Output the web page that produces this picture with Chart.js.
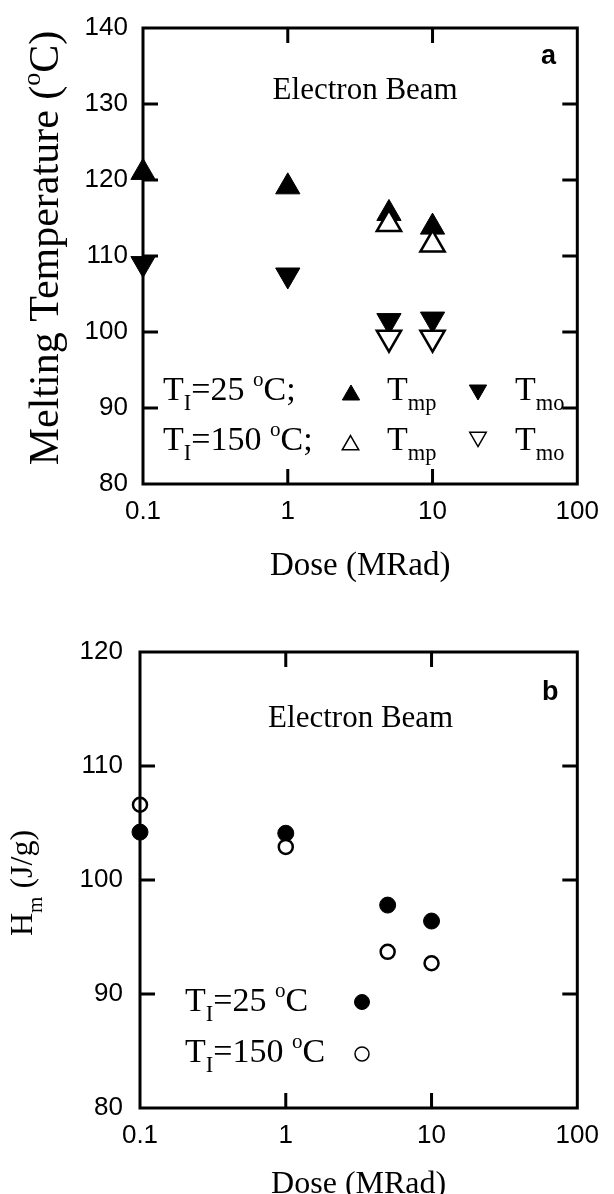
<!DOCTYPE html>
<html><head><meta charset="utf-8">
<script src="https://cdn.jsdelivr.net/npm/chart.js@4/dist/chart.umd.min.js"></script>
<style>
html,body{margin:0;padding:0;background:#fff;}
#wrap{position:relative;width:614px;height:1194px;overflow:hidden;background:#fff;}
canvas{position:absolute;left:0;}
</style></head><body>
<div id="wrap">
<canvas id="ca" width="614" height="597" style="top:0px"></canvas>
<canvas id="cb" width="614" height="597" style="top:597px"></canvas>
</div>
<script>
// ---------- data ----------
const doseTicks = [0.1, 1, 10, 100];
const tempTicks = [80, 90, 100, 110, 120, 130, 140];
const heatTicks = [80, 90, 100, 110, 120];

// panel a : melting temperatures (deg C)
const doseA25 = [0.1, 1, 5, 10];
const tmp25 = [121.0, 119.1, 115.6, 113.8];
const tmo25 = [109.0, 107.5, 101.5, 101.7];
const doseA150 = [5, 10];
const tmp150 = [114.2, 111.5];
const tmo150 = [99.25, 99.25];

// panel b : heat of melting (J/g)
const doseB = [0.1, 1, 5, 10];
const hm25 = [104.2, 104.1, 97.8, 96.4];
const hm150 = [106.6, 102.9, 93.7, 92.7];

// ---------- helpers ----------
const SERIF = '"Liberation Serif", "Times New Roman", serif';
const SANS = '"Liberation Sans", Arial, sans-serif';
const pts = (xs, ys) => xs.map((x, i) => ({x: x, y: ys[i]}));

function segSize(s, size) {
  return s.sub ? size * 0.66 : (s.sup ? size * 0.62 : size);
}
function drawRich(ctx, x, y, segs, size, family) {
  let cx = x;
  ctx.fillStyle = '#000';
  for (const s of segs) {
    ctx.font = segSize(s, size) + 'px ' + family;
    const dy = s.sub ? size * 0.3 : (s.sup ? -size * 0.42 : 0);
    ctx.fillText(s.t, cx, y + dy);
    cx += ctx.measureText(s.t).width;
  }
  return cx - x;
}
function richWidth(ctx, segs, size, family) {
  let w = 0;
  for (const s of segs) {
    ctx.font = segSize(s, size) + 'px ' + family;
    w += ctx.measureText(s.t).width;
  }
  return w;
}
function tri(ctx, x, y, r, down, filled, lw) {
  const s = down ? -1 : 1;
  ctx.save();
  ctx.beginPath();
  ctx.moveTo(x, y - s * r);
  ctx.lineTo(x + r * Math.sin(2 * Math.PI / 3), y + s * r / 2);
  ctx.lineTo(x - r * Math.sin(2 * Math.PI / 3), y + s * r / 2);
  ctx.closePath();
  ctx.fillStyle = filled ? '#000' : '#fff';
  ctx.fill();
  ctx.lineWidth = lw; ctx.strokeStyle = '#000'; ctx.lineJoin = 'miter';
  ctx.stroke();
  ctx.restore();
}
function circ(ctx, x, y, r, filled, lw) {
  ctx.save();
  ctx.beginPath();
  ctx.arc(x, y, r, 0, 2 * Math.PI);
  ctx.fillStyle = filled ? '#000' : '#fff';
  ctx.fill();
  ctx.lineWidth = lw; ctx.strokeStyle = '#000';
  ctx.stroke();
  ctx.restore();
}
function frameAndTicks(chart, yTicks) {
  const ctx = chart.ctx;
  const {left, right, top, bottom} = chart.chartArea;
  const xs = chart.scales.x, ys = chart.scales.y;
  ctx.save();
  ctx.strokeStyle = '#000';
  ctx.lineWidth = 3;
  ctx.strokeRect(left, top, right - left, bottom - top);
  const L = 15;
  ctx.beginPath();
  doseTicks.slice(1, -1).forEach(v => {
    const px = xs.getPixelForValue(v);
    ctx.moveTo(px, bottom); ctx.lineTo(px, bottom - L);
    ctx.moveTo(px, top); ctx.lineTo(px, top + L);
  });
  yTicks.slice(1, -1).forEach(v => {
    const py = ys.getPixelForValue(v);
    ctx.moveTo(left, py); ctx.lineTo(left + L, py);
    ctx.moveTo(right, py); ctx.lineTo(right - L, py);
  });
  ctx.stroke();
  ctx.restore();
}
function xScale(height) {
  return {
    type: 'logarithmic', min: 0.1, max: 100, position: 'bottom',
    grid: {display: false, drawTicks: false}, border: {display: false},
    afterBuildTicks: s => { s.ticks = doseTicks.map(v => ({value: v})); },
    afterFit: s => { s.height = height; },
    ticks: {autoSkip: false, maxRotation: 0, padding: 15, color: '#000',
      font: {family: SANS, size: 26, lineHeight: 1},
      callback: v => String(v)}
  };
}
function yScale(min, max, list, width, pad) {
  return {
    type: 'linear', min: min, max: max, position: 'left',
    grid: {display: false, drawTicks: false}, border: {display: false},
    afterBuildTicks: s => { s.ticks = list.map(v => ({value: v})); },
    afterFit: s => { s.width = width; },
    ticks: {padding: pad, color: '#000', font: {family: SANS, size: 26, lineHeight: 1},
      callback: v => String(v)}
  };
}
const baseOpts = {
  responsive: false, animation: false, devicePixelRatio: 1,
  plugins: {legend: {display: false}, tooltip: {enabled: false}}
};

// ---------- chart a ----------
const decoA = {
  id: 'decoA',
  afterDatasetsDraw(chart) {
    frameAndTicks(chart, tempTicks);
    const ctx = chart.ctx;
    const {left, right} = chart.chartArea;
    const cx = (left + right) / 2;
    ctx.save();
    ctx.fillStyle = '#000';
    ctx.textBaseline = 'alphabetic';
    ctx.textAlign = 'center';
    ctx.font = '31px ' + SERIF;
    ctx.fillText('Electron Beam', cx + 5, 99);
    ctx.font = 'bold 27px ' + SANS;
    ctx.textAlign = 'left';
    ctx.fillText('a', 541, 64);
    // x title
    ctx.textAlign = 'center';
    ctx.font = '33px ' + SERIF;
    ctx.fillText('Dose (MRad)', cx, 575);
    // y title (rotated)
    ctx.textAlign = 'left';
    const ySegs = [{t: 'Melting Temperature ('}, {t: 'o', sup: true}, {t: 'C)'}];
    const w = richWidth(ctx, ySegs, 42, SERIF);
    ctx.save();
    ctx.translate(58, 248);
    ctx.rotate(-Math.PI / 2);
    drawRich(ctx, -w / 2, 0, ySegs, 42, SERIF);
    ctx.restore();
    // legend
    drawRich(ctx, 163, 400, [{t: 'T'}, {t: 'I', sub: true}, {t: '=25 '}, {t: 'o', sup: true}, {t: 'C;'}], 34, SERIF);
    drawRich(ctx, 163, 450, [{t: 'T'}, {t: 'I', sub: true}, {t: '=150 '}, {t: 'o', sup: true}, {t: 'C;'}], 34, SERIF);
    tri(ctx, 351, 395, 10, false, true, 1);
    tri(ctx, 478, 390, 10, true, true, 1);
    tri(ctx, 350.5, 445, 9.5, false, false, 1.5);
    tri(ctx, 478, 437, 9.5, true, false, 1.5);
    drawRich(ctx, 387, 400, [{t: 'T'}, {t: 'mp', sub: true}], 34, SERIF);
    drawRich(ctx, 515, 400, [{t: 'T'}, {t: 'mo', sub: true}], 34, SERIF);
    drawRich(ctx, 387, 450, [{t: 'T'}, {t: 'mp', sub: true}], 34, SERIF);
    drawRich(ctx, 515, 450, [{t: 'T'}, {t: 'mo', sub: true}], 34, SERIF);
    ctx.restore();
  }
};

new Chart(document.getElementById('ca'), {
  type: 'scatter',
  data: {
    datasets: [
      {label: 'Tmp 150', data: pts(doseA150, tmp150), pointStyle: 'triangle', pointRadius: 14,
        backgroundColor: '#fff', borderColor: '#000', borderWidth: 2.5, clip: false},
      {label: 'Tmo 150', data: pts(doseA150, tmo150), pointStyle: 'triangle', pointRotation: 180, pointRadius: 14,
        backgroundColor: '#fff', borderColor: '#000', borderWidth: 2.5, clip: false},
      {label: 'Tmp 25', data: pts(doseA25, tmp25), pointStyle: 'triangle', pointRadius: 14,
        backgroundColor: '#000', borderColor: '#000', borderWidth: 1, clip: false},
      {label: 'Tmo 25', data: pts(doseA25, tmo25), pointStyle: 'triangle', pointRotation: 180, pointRadius: 14,
        backgroundColor: '#000', borderColor: '#000', borderWidth: 1, clip: false}
    ]
  },
  options: Object.assign({}, baseOpts, {
    layout: {padding: {top: 28, right: 24, bottom: 0, left: 0}},
    scales: {x: xScale(113), y: yScale(80, 140, tempTicks, 143, 15)}
  }),
  plugins: [decoA]
});

// ---------- chart b ----------
const decoB = {
  id: 'decoB',
  afterDatasetsDraw(chart) {
    frameAndTicks(chart, heatTicks);
    const ctx = chart.ctx;
    const {left, right} = chart.chartArea;
    const cx = (left + right) / 2;
    ctx.save();
    ctx.fillStyle = '#000';
    ctx.textBaseline = 'alphabetic';
    ctx.textAlign = 'center';
    ctx.font = '31px ' + SERIF;
    ctx.fillText('Electron Beam', cx + 2, 130);
    ctx.font = 'bold 27px ' + SANS;
    ctx.textAlign = 'left';
    ctx.fillText('b', 542, 103);
    ctx.textAlign = 'center';
    ctx.font = '32px ' + SERIF;
    ctx.fillText('Dose (MRad)', cx, 596);
    ctx.textAlign = 'left';
    const ySegs = [{t: 'H'}, {t: 'm', sub: true}, {t: ' (J/g)'}];
    const w = richWidth(ctx, ySegs, 32, SERIF);
    ctx.save();
    ctx.translate(32, 286);
    ctx.rotate(-Math.PI / 2);
    drawRich(ctx, -w / 2, 0, ySegs, 32, SERIF);
    ctx.restore();
    drawRich(ctx, 185, 414, [{t: 'T'}, {t: 'I', sub: true}, {t: '=25 '}, {t: 'o', sup: true}, {t: 'C'}], 34, SERIF);
    drawRich(ctx, 185, 465, [{t: 'T'}, {t: 'I', sub: true}, {t: '=150 '}, {t: 'o', sup: true}, {t: 'C'}], 34, SERIF);
    circ(ctx, 362, 405, 7.5, true, 1);
    circ(ctx, 362, 457, 7, false, 1.5);
    ctx.restore();
  }
};

new Chart(document.getElementById('cb'), {
  type: 'scatter',
  data: {
    datasets: [
      {label: 'TI=150', data: pts(doseB, hm150), pointStyle: 'circle', pointRadius: 7,
        backgroundColor: '#fff', borderColor: '#000', borderWidth: 2.5, clip: false},
      {label: 'TI=25', data: pts(doseB, hm25), pointStyle: 'circle', pointRadius: 8,
        backgroundColor: '#000', borderColor: '#000', borderWidth: 1, clip: false}
    ]
  },
  options: Object.assign({}, baseOpts, {
    layout: {padding: {top: 55, right: 27, bottom: 0, left: 0}},
    scales: {x: xScale(86), y: yScale(80, 120, heatTicks, 140, 17)}
  }),
  plugins: [decoB]
});
</script>
</body></html>
